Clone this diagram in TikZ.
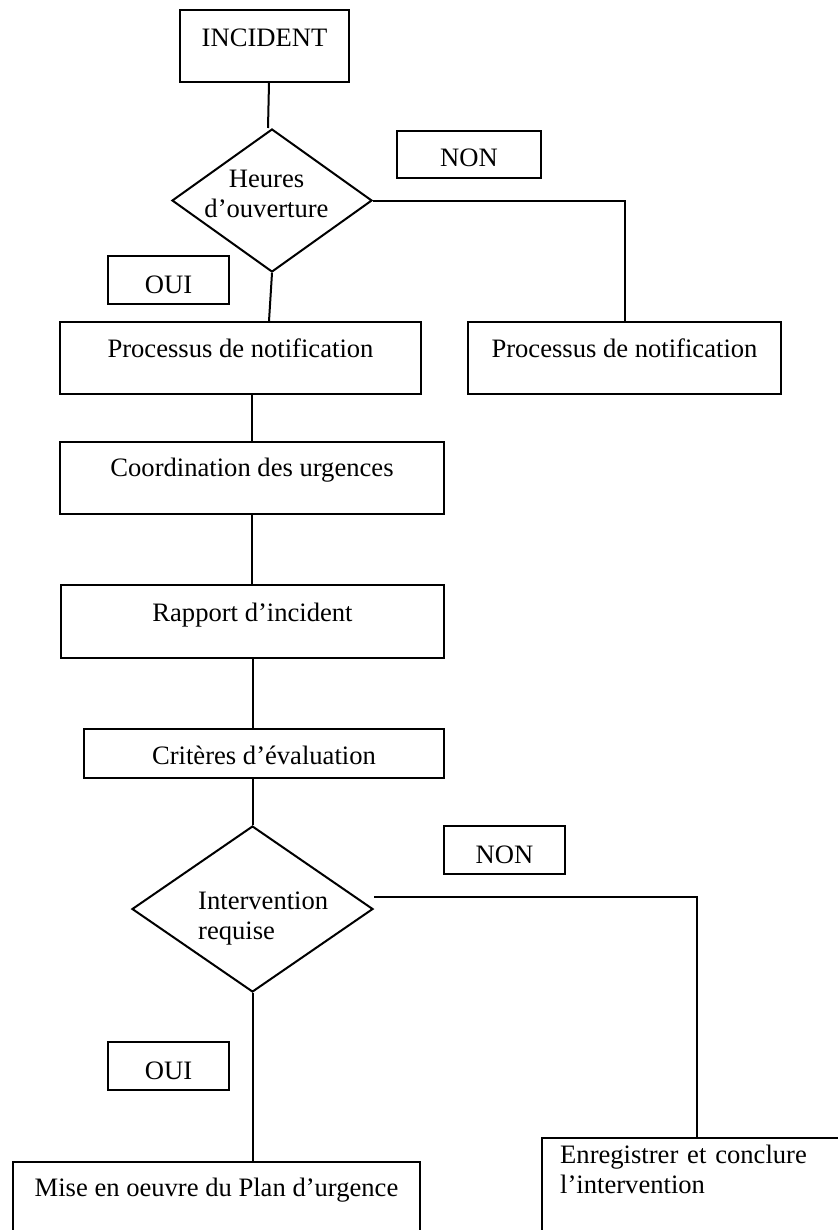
\documentclass[tikz,border=0pt]{standalone}
\usepackage{fontspec}
\setmainfont{Liberation Serif}
\usetikzlibrary{shapes.geometric}
\tikzset{
  etape/.style={draw, line width=2bp, inner sep=0pt, anchor=north west,
    text height=35bp, font=\fontsize{26.6bp}{30bp}\selectfont},
  choix/.style={draw, diamond, line width=2bp, inner sep=0pt},
  texte/.style={inner sep=0pt, font=\fontsize{26.6bp}{30bp}\selectfont},
  lien/.style={line width=2bp}
}
\begin{document}
\begin{tikzpicture}[x=1bp,y=-1bp]
\useasboundingbox (0,0) rectangle (838,1230);
\clip (0,0) rectangle (838,1230);
\node (incident) [etape, minimum width=169bp, text height=36bp, text depth=36bp] at (179,9) {INCIDENT};
\node (dec1) [choix, minimum width=200bp, minimum height=143bp] at (272,200.5) {};
\node (dec1txt) [texte, anchor=base, text width=160bp, align=center] at (266.5,187) {Heures\\d’ouverture};
\node (non1) [etape, minimum width=144bp, text depth=12bp] at (396,130) {NON};
\node (oui1) [etape, minimum width=121bp, text height=37bp, text depth=11bp] at (107,255) {OUI};
\node (proc1) [etape, minimum width=361bp, text depth=37bp] at (59,321) {Processus de notification};
\node (proc2) [etape, minimum width=313bp, text depth=37bp] at (467,321) {Processus de notification};
\node (coord) [etape, minimum width=384bp, text height=34bp, text depth=38bp] at (59,441) {Coordination des urgences};
\node (rapport) [etape, minimum width=383bp, text height=36bp, text depth=37bp] at (60,584) {Rapport d’incident};
\node (crit) [etape, minimum width=360bp, text depth=14bp] at (83,728) {Critères d’évaluation};
\node (dec2) [choix, minimum width=241bp, minimum height=166bp] at (252.5,909) {};
\node (dec2txt) [texte, anchor=base west, text width=150bp, align=left] at (198,909) {Intervention\\requise};
\node (non2) [etape, minimum width=121bp, text height=37bp, text depth=11bp] at (443,825) {NON};
\node (oui2) [etape, minimum width=121bp, text height=37bp, text depth=11bp] at (107,1041) {OUI};
\node (mise) [etape, minimum width=407bp, text height=34bp, text depth=80bp] at (12,1161) {Mise en oeuvre du Plan d’urgence};
\node (enreg) [etape, minimum width=310bp, minimum height=110bp] at (541,1137) {};
\node (enregtxt) [texte, anchor=base west, text width=260bp, align=left] at (560,1163) {Enregistrer et conclure\\l’intervention};

\draw[lien] ([xshift=4.5bp]incident.south) -- ([xshift=-4bp]dec1.north);
\draw[lien] (dec1.east) -| (proc2.north);
\draw[lien] (dec1.south) -- ([xshift=28.5bp]proc1.north);
\draw[lien] (proc1.south -| coord.north) -- (coord.north);
\draw[lien] (coord.south) -- (coord.south |- rapport.north);
\draw[lien] (rapport.south) -- (rapport.south |- crit.north);
\draw[lien] (crit.south -| dec2.north) -- (dec2.north);
\draw[lien] (dec2.south) -- (dec2.south |- mise.north);
\draw[lien] ([yshift=12bp]dec2.east) -| (enreg.north);
\end{tikzpicture}
\end{document}
